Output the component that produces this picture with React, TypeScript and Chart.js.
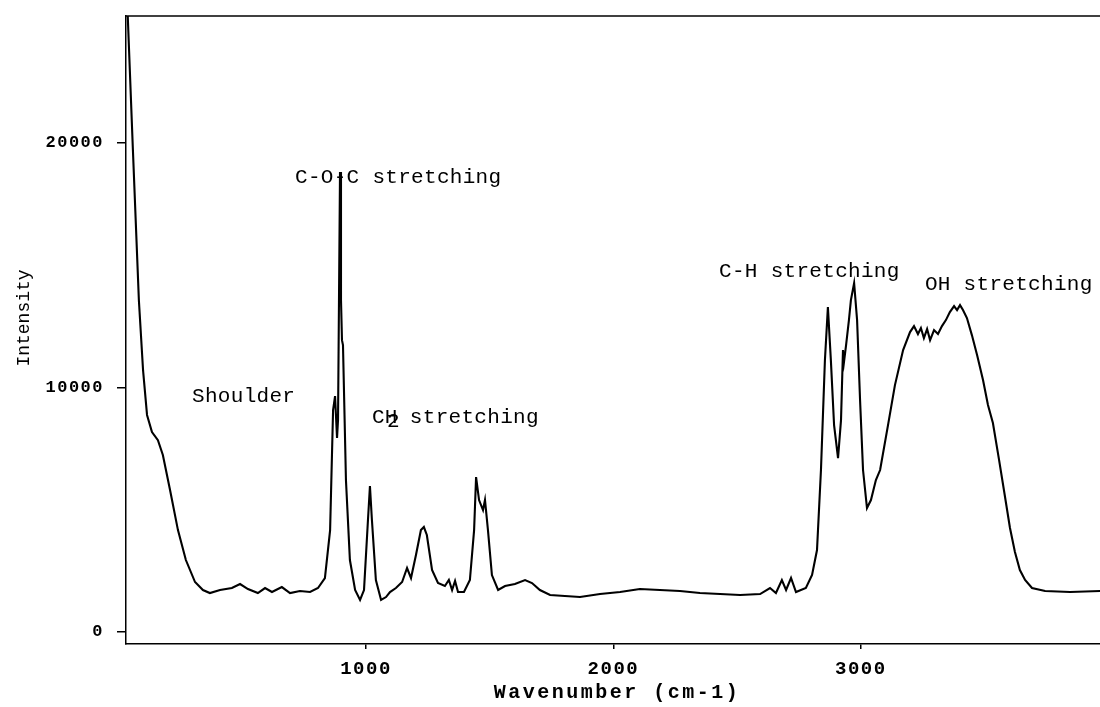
import { useEffect, useRef } from "react";
import { Chart, registerables } from "chart.js";

Chart.register(...registerables);

// Spectrum samples: wavenumber (cm-1) and intensity
const wavenumbers = [
  34, 58, 82, 99, 115, 135, 159, 179, 208, 240, 272, 309, 341, 369, 410, 458, 491, 523, 563, 592,
  620, 660, 693, 733, 774, 806, 834, 855, 867, 875, 883, 887, 895, 899, 903, 907, 919, 935, 956, 976,
  992, 1008, 1016, 1024, 1040, 1061, 1081, 1097, 1121, 1146, 1166, 1182, 1202, 1222, 1234, 1246, 1267, 1291, 1319, 1335,
  1348, 1360, 1372, 1396, 1420, 1437, 1445, 1457, 1473, 1481, 1493, 1509, 1534, 1562, 1602, 1643, 1671, 1703, 1744, 1804,
  1865, 1946, 2027, 2107, 2188, 2269, 2350, 2431, 2512, 2593, 2633, 2657, 2681, 2698, 2718, 2738, 2778, 2803, 2823, 2839,
  2855, 2867, 2879, 2892, 2908, 2920, 2928, 2932, 2940, 2952, 2960, 2973, 2985, 2997, 3009, 3025, 3041, 3061, 3078, 3110,
  3138, 3171, 3199, 3215, 3231, 3243, 3255, 3268, 3280, 3296, 3312, 3328, 3344, 3360, 3377, 3389, 3401, 3413, 3429, 3449,
  3470, 3494, 3514, 3534, 3559, 3583, 3603, 3623, 3643, 3664, 3692, 3745, 3846, 3967,
];
const intensities = [
  26000, 19700, 13580, 10700, 8880, 8180, 7850, 7240, 5810, 4170, 2945, 2045, 1718, 1595, 1718, 1800, 1963, 1759, 1595, 1800,
  1636, 1840, 1595, 1677, 1636, 1800, 2209, 4170, 9080, 9650, 7935, 8670, 18814, 13580, 11940, 11740, 6220, 2945, 1718, 1310,
  1718, 4580, 5970, 4580, 2127, 1310, 1430, 1636, 1800, 2045, 2618, 2209, 3150, 4170, 4295, 3970, 2536, 2004, 1881, 2127,
  1718, 2086, 1636, 1636, 2127, 4170, 6340, 5400, 4990, 5400, 4170, 2331, 1718, 1881, 1963, 2127, 2004, 1718, 1513, 1472,
  1430, 1554, 1636, 1759, 1718, 1677, 1595, 1554, 1513, 1554, 1800, 1595, 2127, 1718, 2209, 1636, 1800, 2331, 3354, 6626,
  11125, 13290, 11125, 8466, 7117, 8670, 11534, 11043, 11700, 12760, 13580, 14274, 12760, 9490, 6626, 5070, 5400, 6217, 6626, 8466,
  10100, 11534, 12270, 12515, 12190, 12434, 12025, 12393, 11943, 12350, 12190, 12515, 12760, 13088, 13333, 13170, 13374, 13170, 12843, 12147,
  11330, 10307, 9284, 8548, 7035, 5522, 4254, 3272, 2536, 2127, 1800, 1677, 1636, 1677,
];

const xTickValues = [1000, 2000, 3000];
const yTickValues = [0, 10000, 20000];

const xAxisTitle = "Wavenumber (cm-1)";
const yAxisTitle = "Intensity";

// Peak annotations: label, anchor wavenumber, anchor intensity
const annotationLabels = ["C-O-C stretching", "Shoulder", "CH2 stretching", "C-H stretching", "OH stretching"];
const annotationWavenumbers = [713, 297, 1024, 2427, 3259];
const annotationIntensities = [18610, 9652, 8794, 14765, 14233];

const CANVAS_W = 1106;
const CANVAS_H = 707;

const framePlugin = {
  id: "frameAndText",
  beforeDraw(chart: any) {
    chart.ctx.letterSpacing = "1.5px";
  },
  afterDraw(chart: any) {
    const { ctx, chartArea, scales } = chart;
    ctx.save();
    ctx.strokeStyle = "#000";
    ctx.lineWidth = 1.5;
    ctx.beginPath();
    ctx.moveTo(chartArea.left, chartArea.top);
    ctx.lineTo(chartArea.right, chartArea.top);
    ctx.stroke();

    ctx.fillStyle = "#000";
    ctx.textBaseline = "middle";
    ctx.textAlign = "left";
    ctx.font = '21px "Liberation Mono"';
    ctx.letterSpacing = "0.3px";
    annotationLabels.forEach((label, i) => {
      const px = scales.x.getPixelForValue(annotationWavenumbers[i]);
      const py = scales.y.getPixelForValue(annotationIntensities[i]);
      if (label.startsWith("CH2")) {
        ctx.fillText("CH", px, py);
        ctx.fillText("2", px + 15, py + 4);
        ctx.fillText(label.slice(3), px + 25, py);
      } else {
        ctx.fillText(label, px, py);
      }
    });

    // axis titles
    ctx.font = 'bold 20px "Liberation Mono"';
    ctx.letterSpacing = "2.5px";
    ctx.textAlign = "center";
    ctx.fillText(xAxisTitle, (chartArea.left + 1100) / 2 + 4, 693);

    ctx.font = '18px "Liberation Mono"';
    ctx.letterSpacing = "0px";
    ctx.translate(24, 318);
    ctx.rotate(-Math.PI / 2);
    ctx.fillText(yAxisTitle, 0, 0);
    ctx.restore();
    ctx.letterSpacing = "0px";
  },
};

export default function App() {
  const canvasRef = useRef<HTMLCanvasElement | null>(null);

  useEffect(() => {
    const canvas = canvasRef.current;
    if (!canvas) return;
    const data = wavenumbers.map((x, i) => ({ x, y: intensities[i] }));
    const chart = new Chart(canvas, {
      type: "line",
      data: {
        datasets: [
          {
            data,
            borderColor: "#000",
            borderWidth: 2.1,
            pointRadius: 0,
            tension: 0,
            fill: false,
          },
        ],
      },
      options: {
        responsive: false,
        animation: false,
        devicePixelRatio: 1,
        layout: { padding: { left: 0, top: 16, right: 2, bottom: 0 } },
        plugins: { legend: { display: false }, tooltip: { enabled: false } },
        scales: {
          x: {
            type: "linear",
            min: 30,
            max: 3983,
            afterBuildTicks: (s: any) => {
              s.ticks = xTickValues.map((value) => ({ value }));
            },
            afterFit: (s: any) => {
              s.height = 63;
              s.paddingLeft = 0;
              s.paddingRight = 0;
            },
            ticks: {
              color: "#000",
              font: { family: "Liberation Mono", size: 19, weight: "bold" },
              padding: 9,
              maxRotation: 0,
              autoSkip: false,
              callback: (v: any) => String(v),
            },
            grid: { drawOnChartArea: false, drawTicks: true, tickLength: 5, color: "#000", lineWidth: 1.5 },
            border: { color: "#000", width: 1.5 },
          },
          y: {
            type: "linear",
            min: -490,
            max: 25200,
            afterBuildTicks: (s: any) => {
              s.ticks = yTickValues.map((value) => ({ value }));
            },
            afterFit: (s: any) => {
              s.width = 126;
              s.paddingTop = 0;
              s.paddingBottom = 0;
            },
            ticks: {
              color: "#000",
              font: { family: "Liberation Mono", size: 17, weight: "bold" },
              padding: 13,
              callback: (v: any) => String(v),
            },
            grid: { drawOnChartArea: false, drawTicks: true, tickLength: 9, color: "#000", lineWidth: 1.5 },
            border: { color: "#000", width: 1.5 },
          },
        },
      },
      plugins: [framePlugin],
    });
    return () => chart.destroy();
  }, []);

  return (
    <div style={{ position: "absolute", left: 0, top: 0, width: 1100, height: 707, overflow: "hidden", background: "#fff" }}>
      <canvas ref={canvasRef} width={CANVAS_W} height={CANVAS_H} style={{ width: CANVAS_W, height: CANVAS_H, display: "block" }} />
    </div>
  );
}
